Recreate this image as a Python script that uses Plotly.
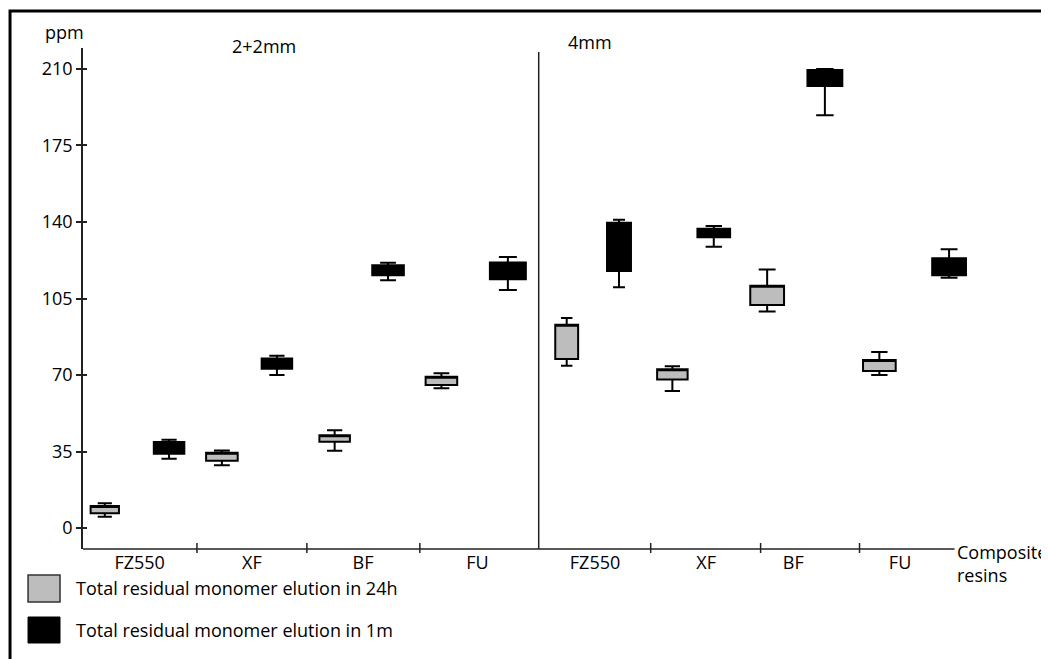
import plotly.graph_objects as go

# ---------------- data ----------------
resins = ["FZ550", "XF", "BF", "FU"]
sections = ["2+2mm", "4mm"]
series_names = ["Total residual monomer elution in 24h", "Total residual monomer elution in 1m"]

# order: FZ550, XF, BF, FU  (section 2+2mm then 4mm)
gray_lower = [5.2, 28.7, 35.4, 63.9, 74.2, 62.7, 99.1, 70.0]
gray_q1 = [6.7, 30.8, 39.5, 65.4, 77.3, 68.0, 102.0, 71.8]
gray_q3 = [10.1, 34.4, 42.4, 69.2, 93.0, 72.6, 110.8, 76.9]
gray_upper = [11.3, 35.5, 44.7, 70.8, 96.1, 74.0, 118.3, 80.5]

black_lower = [31.7, 70.0, 113.3, 108.9, 110.1, 128.7, 188.8, 114.5]
black_q1 = [34.0, 72.9, 115.6, 113.8, 117.6, 133.0, 202.2, 115.6]
black_q3 = [39.3, 77.6, 120.2, 121.5, 139.7, 136.9, 209.5, 123.4]
black_upper = [40.4, 78.8, 121.4, 124.0, 141.0, 138.2, 210.0, 127.5]

y_ticks = [0, 35, 70, 105, 140, 175, 210]

# ---------------- layout constants ----------------
OFF = 8  # page body margin
W, H = 1049 - OFF, 659 - OFF
REF_LEFT, REF_TOP = 83, 48
ML, MT = REF_LEFT - OFF, REF_TOP - OFF
PX_PER_UNIT = 109.0
X_RANGE = [0, 8.5]
PW = PX_PER_UNIT * (X_RANGE[1] - X_RANGE[0])
PH = 501
REF_BOTTOM = REF_TOP + PH
MR = W - ML - PW
MB = H - MT - PH
Y_RANGE = [-9.6, 219.6]

# slot boundaries (x units) and box positions
bounds = [0, 1.046, 2.055, 3.092, 4.183, 5.211, 6.22, 7.128, 8.0]
gray_pos = [0.20, 1.275, 2.31, 3.29, 4.44, 5.41, 6.28, 7.31]
black_pos = [0.79, 1.78, 2.80, 3.90, 4.92, 5.79, 6.81, 7.95]
gray_w = [0.26, 0.29, 0.28, 0.29, 0.21, 0.28, 0.31, 0.30]
black_w = [0.28, 0.28, 0.29, 0.33, 0.22, 0.30, 0.32, 0.31]
label_pos = [0.52, 1.55, 2.57, 3.62, 4.70, 5.72, 6.52, 7.50]

GRAY = "#bdbdbd"
FONT = "Open Sans"
FS = 18
TXT = "#000"

fig = go.Figure()

def add_box(x, w, lo, q1, q3, up, fill):
    fig.add_trace(go.Box(
        x=[x], q1=[q1], median=[q3], q3=[q3], lowerfence=[lo], upperfence=[up],
        width=w, whiskerwidth=0.5, fillcolor=fill,
        line=dict(color="black", width=2), boxpoints=False,
        showlegend=False, hoverinfo="skip",
    ))

for i in range(8):
    add_box(gray_pos[i], gray_w[i], gray_lower[i], gray_q1[i], gray_q3[i], gray_upper[i], GRAY)
    add_box(black_pos[i], black_w[i], black_lower[i], black_q1[i], black_q3[i], black_upper[i], "black")

def px_to_paper_x(px):
    return (px - REF_LEFT) / PW

def px_to_paper_y(py):
    return (REF_BOTTOM - py) / PH

shapes = []
# x axis line
shapes.append(dict(type="line", xref="x", yref="paper", x0=0, x1=8.0, y0=0, y1=0,
                   line=dict(color="#222", width=1.5)))
# boundary ticks
for b in bounds[1:-1]:
    if b == bounds[4]:
        continue
    shapes.append(dict(type="line", xref="x", yref="paper", x0=b, x1=b, y0=-0.008, y1=0.012,
                       line=dict(color="#222", width=1.5)))
# section separator
shapes.append(dict(type="line", xref="x", yref="paper", x0=bounds[4], x1=bounds[4], y0=0,
                   y1=px_to_paper_y(52), line=dict(color="#222", width=1.5)))

# outer border
shapes.append(dict(type="rect", xref="paper", yref="paper",
                   x0=px_to_paper_x(10), x1=px_to_paper_x(1070),
                   y0=px_to_paper_y(690), y1=px_to_paper_y(11),
                   line=dict(color="black", width=3), fillcolor="rgba(0,0,0,0)"))
# legend swatches
shapes.append(dict(type="rect", xref="paper", yref="paper",
                   x0=px_to_paper_x(28), x1=px_to_paper_x(60),
                   y0=px_to_paper_y(602), y1=px_to_paper_y(575),
                   line=dict(color="#333", width=1.5), fillcolor=GRAY))
shapes.append(dict(type="rect", xref="paper", yref="paper",
                   x0=px_to_paper_x(28), x1=px_to_paper_x(60),
                   y0=px_to_paper_y(643), y1=px_to_paper_y(617),
                   line=dict(color="black", width=1), fillcolor="black"))

def txt(text, x, y, xanchor="left", align="left"):
    return dict(text=text, xref="paper", yref="paper", x=px_to_paper_x(x), y=px_to_paper_y(y),
                xanchor=xanchor, yanchor="middle", align=align, showarrow=False,
                font=dict(size=FS, color=TXT, family=FONT))

annotations = [
    txt("ppm", 43, 32),
    txt(sections[0], 264, 46, "center"),
    txt(sections[1], 590, 42, "center"),
    txt("Composite<br>resins", 955, 563),
    txt(series_names[0], 74, 588),
    txt(series_names[1], 74, 630),
]

fig.update_layout(
    width=W, height=H,
    margin=dict(l=ML, r=MR, t=MT, b=MB),
    paper_bgcolor="white", plot_bgcolor="white",
    xaxis=dict(range=X_RANGE, showgrid=False, zeroline=False, showline=False,
               tickmode="array", tickvals=label_pos, ticktext=resins + resins,
               ticks="", tickfont=dict(size=FS, color=TXT, family=FONT), ticklabelstandoff=1),
    yaxis=dict(range=Y_RANGE, showgrid=False, zeroline=False, showline=True,
               linecolor="#222", linewidth=1.5, tickmode="array", tickvals=y_ticks,
               ticks="outside", ticklen=5, tickwidth=1.5, tickcolor="#222",
               tickfont=dict(size=FS, color=TXT, family=FONT), ticklabelstandoff=0),
    yaxis2=dict(range=Y_RANGE, overlaying="y", side="left", showgrid=False, zeroline=False,
                showline=False, tickmode="array", tickvals=y_ticks, ticks="inside", ticklen=4,
                tickwidth=1.5, tickcolor="#222", showticklabels=False, anchor="x"),
    shapes=shapes, annotations=annotations, showlegend=False,
)
# invisible trace to activate yaxis2
fig.add_trace(go.Scatter(x=[None], y=[None], yaxis="y2", showlegend=False, hoverinfo="skip"))

fig.write_html("out.html")
